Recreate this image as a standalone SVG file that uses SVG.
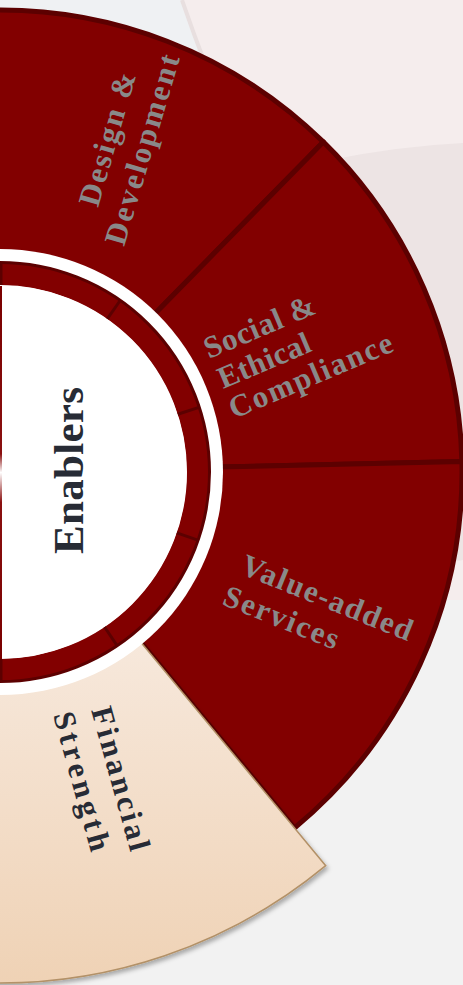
<svg xmlns="http://www.w3.org/2000/svg" width="463" height="985" viewBox="0 0 463 985">
  <defs>
    <linearGradient id="finFill" x1="0" y1="0" x2="0" y2="1">
      <stop offset="0" stop-color="#f7e9dd"/>
      <stop offset="1" stop-color="#efd2b5"/>
    </linearGradient>
    <linearGradient id="edgeFade" x1="0" y1="0" x2="0" y2="1">
      <stop offset="0" stop-color="#7a0000"/>
      <stop offset="0.45" stop-color="#8a1010"/>
      <stop offset="0.5" stop-color="#ffffff"/>
      <stop offset="0.58" stop-color="#8a1010"/>
      <stop offset="1" stop-color="#7a0000"/>
    </linearGradient>
    <filter id="shadow" x="-10%" y="-10%" width="130%" height="130%">
      <feDropShadow dx="2" dy="3" stdDeviation="2" flood-color="#000" flood-opacity="0.3"/>
    </filter>
    <style>
      .sector { fill: #820000; stroke: #5c0000; stroke-width: 5; stroke-linejoin: round; }
      .divider { stroke: #5c0000; stroke-width: 3; }
      .label { font-family: "Liberation Serif", "Times New Roman", serif; font-weight: bold; font-size: 31px; }
      .grey { fill: #898989; }
      .dark { fill: #272b35; }
    </style>
  </defs>

  <!-- backdrop -->
  <rect width="463" height="985" fill="#f2f2f2"/>
  <rect x="0" y="0" width="260" height="520" fill="#eff1f3"/>
  <path d="M182,0 L463,0 L463,600 L300,600 L240,150 Q206,70 182,0 Z" fill="#f5eded"/>
  <path d="M182,0 Q206,70 240,150" fill="none" stroke="#e8dfdf" stroke-width="4"/>
  <path d="M330,160 Q400,146 463,143 L463,560 Q420,570 380,560 Z" fill="#ede4e4"/>

  <!-- outer ring sectors -->
  <g id="design-development">
    <path class="sector" d="M-16.1,10.3 A462,462 0 0 1 323.3,141.9 L143.4,325.5 A205,205 0 0 0 -7.2,267.1 Z"/>
  </g>
  <g id="social-ethical-compliance">
    <path class="sector" d="M323.3,141.9 A462,462 0 0 1 461.9,461.5 L204.9,467.3 A205,205 0 0 0 143.4,325.5 Z"/>
  </g>
  <g id="value-added-services">
    <path class="sector" d="M461.9,461.5 A462,462 0 0 1 294.5,828 L130.7,630 A205,205 0 0 0 204.9,467.3 Z"/>
  </g>
  <g id="financial-strength">
    <path d="M130.7,630 L325.7,865.7 A511,511 0 0 1 -17.8,982.7 L-7.2,676.9 A205,205 0 0 0 130.7,630 Z" fill="url(#finFill)" stroke="#b39167" stroke-width="1.5" filter="url(#shadow)"/>
  </g>

  <!-- white gap between rings -->
  <circle cx="0" cy="472" r="223" fill="#ffffff"/>

  <!-- inner segmented ring -->
  <g id="inner-ring">
    <circle cx="0" cy="472" r="198.5" fill="none" stroke="#820000" stroke-width="23"/>
    <circle cx="0" cy="472" r="209.5" fill="none" stroke="#5c0000" stroke-width="3"/>
    <g class="divider">
      <line x1="1" y1="285" x2="1" y2="262"/>
      <line x1="107.3" y1="318.8" x2="120.5" y2="300"/>
      <line x1="177.8" y1="414.2" x2="199.7" y2="407.1"/>
      <line x1="176.8" y1="532.9" x2="198.6" y2="540.4"/>
      <line x1="104.6" y1="627.0" x2="117.4" y2="646.1"/>
      <line x1="1" y1="659" x2="1" y2="682"/>
    </g>
  </g>

  <!-- centre disc -->
  <g id="enablers">
    <circle cx="0" cy="472" r="186.5" fill="#ffffff"/>
    <rect x="0" y="286" width="2" height="373" fill="url(#edgeFade)"/>
    <text class="label dark" font-size="43" transform="translate(83,554) rotate(-90)" textLength="167" lengthAdjust="spacing" style="font-size:43px">Enablers</text>
  </g>

  <!-- sector labels -->
  <g id="labels">
    <text class="label grey" transform="translate(98,208) rotate(-74)" textLength="138" lengthAdjust="spacing">Design &amp;</text>
    <text class="label grey" transform="translate(124,247) rotate(-73.5)" textLength="197" lengthAdjust="spacing">Development</text>

    <text class="label grey" transform="translate(209,359) rotate(-23)" textLength="118" lengthAdjust="spacing">Social &amp;</text>
    <text class="label grey" transform="translate(223,389) rotate(-23)" textLength="98" lengthAdjust="spacing">Ethical</text>
    <text class="label grey" transform="translate(234,419) rotate(-23)" textLength="175" lengthAdjust="spacing">Compliance</text>

    <text class="label grey" transform="translate(239,573) rotate(22)" textLength="182" lengthAdjust="spacing">Value-added</text>
    <text class="label grey" transform="translate(221,604) rotate(22)" textLength="122" lengthAdjust="spacing">Services</text>

    <text class="label dark" transform="translate(91,710) rotate(74.5)" textLength="148" lengthAdjust="spacing">Financial</text>
    <text class="label dark" transform="translate(53,715) rotate(74.5)" textLength="143" lengthAdjust="spacing">Strength</text>
  </g>
</svg>
